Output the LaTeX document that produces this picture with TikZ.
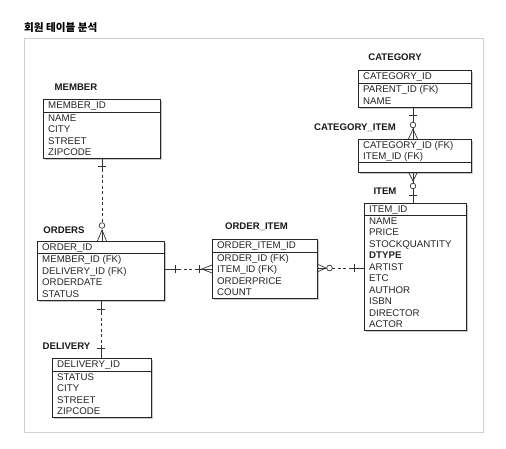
\documentclass[tikz,border=0pt]{standalone}
\usepackage{fontspec}
\setmainfont{Liberation Sans}
\newfontfamily\krfont{Noto Sans CJK KR}
\usetikzlibrary{calc}
\tikzset{
  ent/.style={draw=black!85, line width=0.8pt, fill=white, inner sep=0pt, outer sep=0pt},
  sepline/.style={draw=black!85, line width=0.8pt},
  shad/.style={fill=black, opacity=0.22},
  row/.style={anchor=base west, inner sep=0pt, font=\fontsize{9.7}{11}\selectfont, text=black!85},
  lab/.style={anchor=base, inner sep=0pt, font=\bfseries\fontsize{9.6}{11}\selectfont, text=black!90},
  conn/.style={draw=black!80, line width=0.7pt},
  dsh/.style={conn, dash pattern=on 3pt off 2.5pt},
  ring/.style={conn, fill=white},
}
\newcommand\erbox[6]{%
  \fill[shad] (#2+1.8,#3+1.8) rectangle (#4+1.8,#5+1.8);
  \node[ent, anchor=north west, minimum width={(#4-#2)*1pt}, minimum height={(#5-#3)*1pt}] (#1) at (#2,#3) {};
  \draw[sepline] (#2,#6) -- (#4,#6);
}
\newcommand\erows[5]{\foreach \t [count=\i] in {#5} \node[row] (#1-\i) at ({#2+5},{#3+(\i-0.5)*#4+3.4}) {\t};}
\begin{document}
\begin{tikzpicture}[x=1pt,y=-1pt]
\useasboundingbox (0,0) rectangle (506,448);
\fill[white] (0,0) rectangle (506,448);
% frame
\draw[draw=black!18, line width=0.8pt] (24,38) rectangle (483,432);
\node[anchor=west, inner sep=0pt, font=\krfont\bfseries\fontsize{10.6}{12}\selectfont] (title) at (24,27.5) {회원 테이블 분석};

% MEMBER
\node[lab] (member-lab) at (76,90.5) {MEMBER};
\erbox{member}{43}{99}{160}{158}{112}
\node[row] (member-h) at (48,108.9) {MEMBER\_ID};
\erows{member}{43}{112}{11.5}{NAME,CITY,STREET,ZIPCODE}

% ORDERS
\node[lab] (orders-lab) at (64,233.5) {ORDERS};
\erbox{orders}{37}{241}{164}{300}{253}
\node[row] (orders-h) at (42,250.4) {ORDER\_ID};
\erows{orders}{37}{253}{11.75}{MEMBER\_ID (FK),DELIVERY\_ID (FK),ORDERDATE,STATUS}

% DELIVERY
\node[lab] (delivery-lab) at (66.5,349.2) {DELIVERY};
\erbox{delivery}{52}{358}{151}{417}{371}
\node[row] (delivery-h) at (57,367.9) {DELIVERY\_ID};
\erows{delivery}{52}{371}{11.5}{STATUS,CITY,STREET,ZIPCODE}

% ORDER_ITEM
\node[lab] (oi-lab) at (256.5,229.2) {ORDER\_ITEM};
\erbox{oi}{212}{239}{317}{298}{252}
\node[row] (oi-h) at (217,248.9) {ORDER\_ITEM\_ID};
\erows{oi}{212}{252}{11.5}{ORDER\_ID (FK),ITEM\_ID (FK),ORDERPRICE,COUNT}

% ITEM
\node[lab] (item-lab) at (385,194.2) {ITEM};
\erbox{item}{364}{203}{466}{330}{215}
\node[row] (item-h) at (369,212.4) {ITEM\_ID};
\erows{item}{364}{215}{11.5}{NAME,PRICE,STOCKQUANTITY,{\bfseries DTYPE},ARTIST,ETC,AUTHOR,ISBN,DIRECTOR,ACTOR}

% CATEGORY
\node[lab] (cat-lab) at (395,60.2) {CATEGORY};
\erbox{cat}{358}{70}{471}{107}{83}
\node[row] (cat-h) at (363,79.9) {CATEGORY\_ID};
\erows{cat}{358}{83}{12}{PARENT\_ID (FK),NAME}

% CATEGORY_ITEM
\node[lab] (ci-lab) at (355,130.8) {CATEGORY\_ITEM};
\erbox{ci}{358}{139}{471}{172}{162}
\node[row] (ci-1) at (363,148.9) {CATEGORY\_ID (FK)};
\node[row] (ci-2) at (363,159.9) {ITEM\_ID (FK)};

% connector MEMBER - ORDERS
\coordinate (c1a) at (member.south -| 102,0);
\coordinate (c1b) at (orders.north -| 102,0);
\draw[conn] (c1a) -- ($(c1a)+(0,11)$);
\draw[conn] ($(c1a)+(-4,8)$) -- ($(c1a)+(4,8)$);
\draw[dsh] ($(c1a)+(0,11)$) -- ($(c1b)+(0,-18.5)$);
\draw[conn] ($(c1b)+(0,-11)$) -- (c1b);
\draw[conn] ($(c1b)+(-4.5,0)$) -- ($(c1b)+(0,-11)$) -- ($(c1b)+(4.5,0)$);
\draw[ring] ($(c1b)+(0,-15.5)$) circle[radius=2.8pt];

% connector ORDERS - DELIVERY
\coordinate (c2a) at (orders.south -| 101,0);
\coordinate (c2b) at (delivery.north -| 101,0);
\draw[conn] (c2a) -- ($(c2a)+(0,12)$);
\draw[conn] ($(c2a)+(-4,9)$) -- ($(c2a)+(4,9)$);
\draw[dsh] ($(c2a)+(0,12)$) -- ($(c2b)+(0,-13)$);
\draw[conn] ($(c2b)+(0,-13)$) -- (c2b);
\draw[conn] ($(c2b)+(-4,-10)$) -- ($(c2b)+(4,-10)$);

% connector ORDERS - ORDER_ITEM
\coordinate (c3a) at (orders.east |- 0,269);
\coordinate (c3b) at (oi.west |- 0,269);
\draw[conn] (c3a) -- ($(c3a)+(14,0)$);
\draw[conn] ($(c3a)+(11,-4)$) -- ($(c3a)+(11,4)$);
\draw[dsh] ($(c3a)+(14,0)$) -- ($(c3b)+(-16,0)$);
\draw[conn] ($(c3b)+(-16,0)$) -- (c3b);
\draw[conn] ($(c3b)+(-13,-4)$) -- ($(c3b)+(-13,4)$);
\draw[conn] ($(c3b)+(0,-4)$) -- ($(c3b)+(-10,0)$) -- ($(c3b)+(0,4)$);

% connector ORDER_ITEM - ITEM
\coordinate (c4a) at (oi.east |- 0,268);
\coordinate (c4b) at (item.west |- 0,268);
\draw[conn] (c4a) -- ($(c4a)+(9.7,0)$);
\draw[conn] ($(c4a)+(0,-4)$) -- ($(c4a)+(9,0)$) -- ($(c4a)+(0,4)$);
\draw[ring] ($(c4a)+(12.5,0)$) circle[radius=2.8pt];
\draw[dsh] ($(c4a)+(15.3,0)$) -- ($(c4b)+(-12,0)$);
\draw[conn] ($(c4b)+(-12,0)$) -- (c4b);
\draw[conn] ($(c4b)+(-10,-4)$) -- ($(c4b)+(-10,4)$);

% connector CATEGORY - CATEGORY_ITEM
\coordinate (c5a) at (cat.south -| 413,0);
\coordinate (c5b) at (ci.north -| 413,0);
\draw[conn] (c5a) -- ($(c5b)+(0,-16.8)$);
\draw[conn] ($(c5a)+(-4,8)$) -- ($(c5a)+(4,8)$);
\draw[ring] ($(c5b)+(0,-14)$) circle[radius=2.8pt];
\draw[conn] ($(c5b)+(0,-11.2)$) -- (c5b);
\draw[conn] ($(c5b)+(-4.5,0)$) -- ($(c5b)+(0,-10)$) -- ($(c5b)+(4.5,0)$);

% connector CATEGORY_ITEM - ITEM
\coordinate (c6a) at (ci.south -| 413,0);
\coordinate (c6b) at (item.north -| 413,0);
\draw[conn] (c6a) -- ($(c6a)+(0,11.2)$);
\draw[conn] ($(c6a)+(-4.5,0)$) -- ($(c6a)+(0,9)$) -- ($(c6a)+(4.5,0)$);
\draw[ring] ($(c6a)+(0,14)$) circle[radius=2.8pt];
\draw[conn] ($(c6a)+(0,16.8)$) -- (c6b);
\draw[conn] ($(c6b)+(-4,-8)$) -- ($(c6b)+(4,-8)$);
\end{tikzpicture}
\end{document}
